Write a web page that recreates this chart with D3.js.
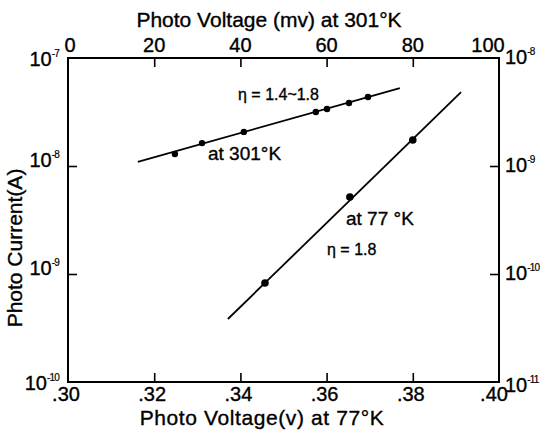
<!DOCTYPE html>
<html>
<head>
<meta charset="utf-8">
<script src="https://cdn.jsdelivr.net/npm/d3@7"></script>
<style>
  html, body { margin: 0; padding: 0; background: #fff; }
  svg { display: block; }
  text { font-family: "Liberation Sans", Arial, sans-serif; fill: #000; stroke: #000; stroke-width: 0.35px; }
</style>
</head>
<body>
<svg id="chart" width="545" height="434"></svg>
<script>
// Bottom axis: photo voltage (V) at 77 K
const xTicks77 = [0.30, 0.32, 0.34, 0.36, 0.38, 0.40];
const xTickLabels77 = [".30", ".32", ".34", ".36", ".38", ".40"];
// Top axis: photo voltage (mV) at 301 K
const xTicks301 = [0, 20, 40, 60, 80, 100];
const xTickLabels301 = ["0", "20", "40", "60", "80", "100"];
// Left axis (301 K current) and right axis (77 K current), decades
const yExpLeft = [-7, -8, -9, -10];
const yExpRight = [-8, -9, -10, -11];

// 301 K measurements
const v301 = [24.8, 31.1, 40.8, 57.5, 60.1, 65.2, 69.6];          // mV
const i301 = [1.29e-8, 1.63e-8, 2.07e-8, 3.16e-8, 3.37e-8, 3.83e-8, 4.35e-8]; // A
const fit301V = [16.2, 77.0];
const fit301I = [1.09e-8, 5.27e-8];

// 77 K measurements
const v77 = [0.3457, 0.3654, 0.3800];        // V
const i77 = [8.26e-11, 5.16e-10, 1.74e-9];   // A
const fit77V = [0.3371, 0.3912];
const fit77I = [3.83e-11, 4.84e-9];

const svg = d3.select("#chart");
const L = 68, R = 499, T = 58, B = 382;

const x77 = d3.scaleLinear().domain([0.30, 0.40]).range([L, R]);
const x301 = d3.scaleLinear().domain([0, 100]).range([L, R]);
const yLeft = d3.scaleLog().domain([1e-10, 1e-7]).range([B, T]);
const yRight = d3.scaleLog().domain([1e-11, 1e-8]).range([B, T]);

const tickLen = 9;

// Axes with inward ticks
const gB = svg.append("g").attr("transform", `translate(0,${B})`)
  .call(d3.axisBottom(x77).tickValues(xTicks77.slice(1, -1)).tickSize(-tickLen).tickSizeOuter(0).tickFormat(""));
const gT = svg.append("g").attr("transform", `translate(0,${T})`)
  .call(d3.axisTop(x301).tickValues(xTicks301.slice(1, -1)).tickSize(-tickLen).tickSizeOuter(0).tickFormat(""));
const gL = svg.append("g").attr("transform", `translate(${L},0)`)
  .call(d3.axisLeft(yLeft).tickValues(yExpLeft.slice(1, -1).map(e => Math.pow(10, e))).tickSize(-tickLen).tickSizeOuter(0).tickFormat(""));
const gR = svg.append("g").attr("transform", `translate(${R},0)`)
  .call(d3.axisRight(yRight).tickValues(yExpRight.slice(1, -1).map(e => Math.pow(10, e))).tickSize(-tickLen).tickSizeOuter(0).tickFormat(""));
[gB, gT, gL, gR].forEach(g => {
  g.select(".domain").remove();
  g.selectAll(".tick line").attr("stroke", "#000").attr("stroke-width", 1.6);
});

// Frame
svg.append("rect").attr("x", L).attr("y", T).attr("width", R - L).attr("height", B - T)
  .attr("fill", "none").attr("stroke", "#000").attr("stroke-width", 2);

// Bottom tick labels
svg.append("g").selectAll("text").data(xTicks77).join("text")
  .attr("x", (d, i) => x77(d) + (i === xTicks77.length - 1 ? -5 : -2))
  .attr("y", B + 19).attr("text-anchor", "middle").attr("font-size", 20)
  .text((d, i) => xTickLabels77[i]);

// Top tick labels
svg.append("g").selectAll("text").data(xTicks301).join("text")
  .attr("x", (d, i) => x301(d) + (i === 0 ? 2 : i === xTicks301.length - 1 ? -11 : 0))
  .attr("y", T - 6).attr("text-anchor", "middle").attr("font-size", 20)
  .text((d, i) => xTickLabels301[i]);

// Power-of-ten labels: "10" with a compact superscript exponent
function powLabel(sel, exp) {
  sel.append("tspan").text("10");
  sel.append("tspan").attr("font-size", 10).attr("dy", -9).attr("letter-spacing", -0.8)
    .attr("stroke-width", 0.2).text("-" + Math.abs(exp));
}
const nL = yExpLeft.length;
yExpLeft.forEach((e, i) => {
  const end = i === 0 || i === nL - 1;
  const t = svg.append("text").attr("x", 59).attr("text-anchor", "end").attr("font-size", 20)
    .attr("y", yLeft(Math.pow(10, e)) + (end ? 8 : 1));
  powLabel(t, e);
});
const nR = yExpRight.length;
yExpRight.forEach((e, i) => {
  const t = svg.append("text").attr("x", 505).attr("text-anchor", "start").attr("font-size", 20)
    .attr("y", yRight(Math.pow(10, e)) + (i === nR - 1 ? 10 : 6));
  powLabel(t, e);
});

// Axis titles
svg.append("text").attr("x", 269).attr("y", 27).attr("text-anchor", "middle").attr("font-size", 21)
  .text("Photo Voltage (mv) at 301°K");
svg.append("text").attr("x", 262).attr("y", 425).attr("text-anchor", "middle").attr("font-size", 21)
  .attr("letter-spacing", 0.6).text("Photo Voltage(v) at 77°K");
svg.append("text").attr("transform", "translate(22,248) rotate(-90)").attr("text-anchor", "middle")
  .attr("font-size", 21).text("Photo Current(A)");

// Fitted lines
const line301 = d3.line().x(d => x301(d[0])).y(d => yLeft(d[1]));
const line77 = d3.line().x(d => x77(d[0])).y(d => yRight(d[1]));
svg.append("path").attr("d", line301(d3.zip(fit301V, fit301I)))
  .attr("fill", "none").attr("stroke", "#000").attr("stroke-width", 1.8);
svg.append("path").attr("d", line77(d3.zip(fit77V, fit77I)))
  .attr("fill", "none").attr("stroke", "#000").attr("stroke-width", 1.8);

// Data points
svg.append("g").selectAll("circle").data(d3.zip(v301, i301)).join("circle")
  .attr("cx", d => x301(d[0])).attr("cy", d => yLeft(d[1])).attr("r", 3.2).attr("fill", "#000");
svg.append("g").selectAll("circle").data(d3.zip(v77, i77)).join("circle")
  .attr("cx", d => x77(d[0])).attr("cy", d => yRight(d[1])).attr("r", 3.8).attr("fill", "#000");

// Annotations
svg.append("text").attr("x", 238).attr("y", 100).attr("font-size", 16).text("η = 1.4~1.8");
svg.append("text").attr("x", 208).attr("y", 160).attr("font-size", 19).text("at 301°K");
svg.append("text").attr("x", 346).attr("y", 225).attr("font-size", 19).text("at 77 °K");
svg.append("text").attr("x", 327).attr("y", 255).attr("font-size", 16).text("η = 1.8");
</script>
</body>
</html>
